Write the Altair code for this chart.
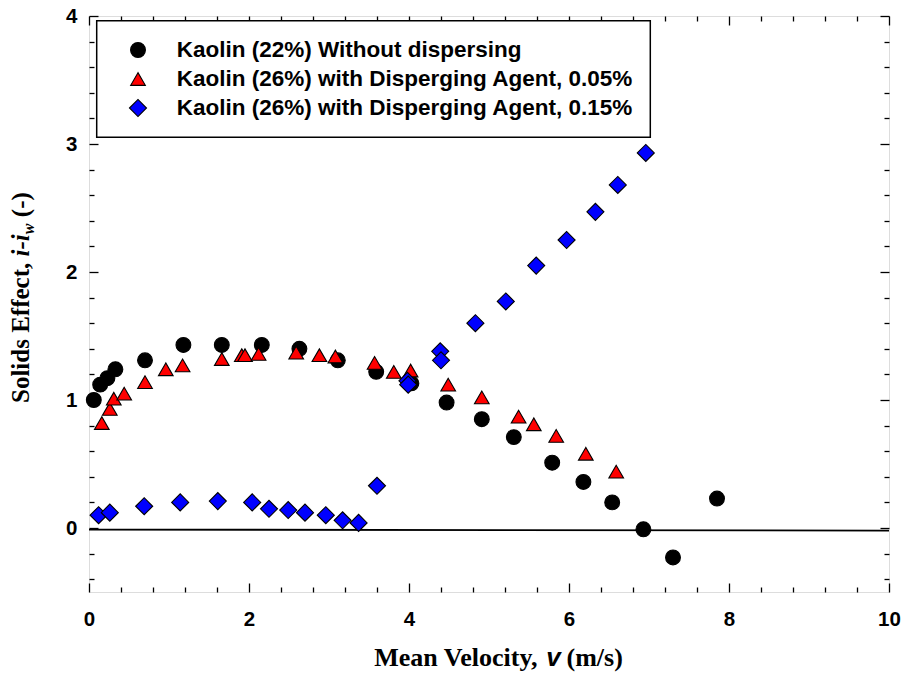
import altair as alt
import pandas as pd

series_names = [
    "Kaolin (22%) Without dispersing",
    "Kaolin (26%) with Disperging Agent, 0.05%",
    "Kaolin (26%) with Disperging Agent, 0.15%",
]
series_fill = ["black", "red", "blue"]
series_shape = ["circle", "triangle-up", "diamond"]
series_size = [220, 215, 290]

k22_x = [0.06, 0.14, 0.23, 0.33, 0.70, 1.18, 1.66, 2.16, 2.63, 3.11, 3.59, 4.03, 4.47,
         4.91, 5.31, 5.79, 6.18, 6.54, 6.93, 7.30, 7.85]
k22_y = [1.00, 1.12, 1.17, 1.24, 1.31, 1.43, 1.43, 1.43, 1.40, 1.31, 1.22, 1.13, 0.98,
         0.85, 0.71, 0.51, 0.36, 0.20, -0.01, -0.23, 0.23]

k05_x = [0.16, 0.26, 0.31, 0.44, 0.70, 0.96, 1.17, 1.66, 1.91, 1.95, 2.12, 2.59, 2.88,
         3.08, 3.57, 3.81, 4.02, 4.49, 4.91, 5.37, 5.56, 5.84, 6.21, 6.59]
k05_y = [0.82, 0.93, 1.01, 1.05, 1.14, 1.24, 1.27, 1.32, 1.35, 1.35, 1.36, 1.37, 1.35,
         1.34, 1.29, 1.22, 1.23, 1.12, 1.02, 0.87, 0.81, 0.72, 0.58, 0.44]

k15_x = [0.12, 0.26, 0.69, 1.14, 1.61, 2.04, 2.25, 2.49, 2.70, 2.96, 3.17, 3.37, 3.60,
         3.98, 3.99, 4.39, 4.40, 4.83, 5.21, 5.59, 5.97, 6.33, 6.61, 6.96]
k15_y = [0.10, 0.12, 0.17, 0.20, 0.21, 0.20, 0.15, 0.14, 0.12, 0.10, 0.06, 0.04, 0.33,
         1.15, 1.12, 1.38, 1.31, 1.60, 1.77, 2.05, 2.25, 2.47, 2.68, 2.93]

zero_x = [0, 10]
zero_y = [-0.012, -0.02]

x_major = [0, 2, 4, 6, 8, 10]
y_major = [0, 1, 2, 3, 4]
x_minor = [round(0.4 * k, 2) for k in range(1, 25) if k % 5 != 0]
y_minor = [round(-0.4 + 0.2 * k, 2) for k in range(0, 22) if k % 5 != 2]

x_title_parts = ["Mean Velocity,", "v", "(m/s)"]
y_title_parts = ["Solids Effect,", "i-i", "w", "(-)"]

zero_df = pd.DataFrame({"x": zero_x, "y": zero_y})

xscale = alt.Scale(domain=[0, 10], nice=False, zero=False)
yscale = alt.Scale(domain=[-0.5, 4], nice=False, zero=False)

LABEL_FONT = "Liberation Sans"
SERIF = "Liberation Serif"

label_x_axis = alt.Axis(
    orient="bottom", values=x_major, ticks=False, domain=False, grid=False, title=None,
    labelFont=LABEL_FONT, labelFontWeight="bold", labelFontSize=20.5, labelColor="black",
    labelPadding=17, labelFlush=False, labelOverlap=False)
label_y_axis = alt.Axis(
    orient="left", values=y_major, ticks=False, domain=False, grid=False, title=None,
    labelFont=LABEL_FONT, labelFontWeight="bold", labelFontSize=20.5, labelColor="black",
    labelPadding=12, labelFlush=False, labelOverlap=False)

series_layers = []
for i, (xs, ys) in enumerate(zip([k22_x, k05_x, k15_x], [k22_y, k05_y, k15_y])):
    d = pd.DataFrame({"x": xs, "y": ys})
    series_layers.append(
        alt.Chart(d).mark_point(
            filled=True, opacity=1, fill=series_fill[i], shape=series_shape[i],
            size=series_size[i], stroke="black", strokeWidth=1.1,
        ).encode(
            x=alt.X("x:Q", scale=xscale, axis=label_x_axis if i == 0 else None),
            y=alt.Y("y:Q", scale=yscale, axis=label_y_axis if i == 0 else None),
        )
    )

zero_line = alt.Chart(zero_df).mark_line(color="black", strokeWidth=1.8).encode(
    x=alt.X("x:Q", scale=xscale, axis=None),
    y=alt.Y("y:Q", scale=yscale, axis=None),
)


def tick_layer(xorient, yorient, xvals, yvals, size):
    return alt.Chart(zero_df).mark_point(opacity=0).encode(
        x=alt.X("x:Q", scale=xscale, axis=alt.Axis(
            orient=xorient, values=xvals, offset=-size, tickSize=size, ticks=True,
            labels=False, domain=False, grid=False, title=None, tickColor="black", tickWidth=1.3)),
        y=alt.Y("y:Q", scale=yscale, axis=alt.Axis(
            orient=yorient, values=yvals, offset=-size, tickSize=size, ticks=True,
            labels=False, domain=False, grid=False, title=None, tickColor="black", tickWidth=1.3)),
    )


t1 = tick_layer("bottom", "left", x_major, y_major, 9)
t2 = tick_layer("bottom", "left", x_minor, y_minor, 5)
t3 = tick_layer("top", "right", x_major, y_major, 9)
t4 = tick_layer("top", "right", x_minor, y_minor, 5)


def text_piece(txt, x, y, font, size, align, style="normal", angle=0, baseline="alphabetic"):
    return alt.Chart(pd.DataFrame({"t": [txt]})).mark_text(
        font=font, fontSize=size, fontWeight="bold", fontStyle=style, align=align,
        baseline=baseline, angle=angle, color="black",
    ).encode(x=alt.value(x), y=alt.value(y), text="t:N")


# legend (box, symbols, labels)
legend_box = alt.Chart(pd.DataFrame({"t": ["legend"]})).mark_rect(
    fill="white", stroke="black", strokeWidth=1.5
).encode(x=alt.value(7.7), x2=alt.value(561.3), y=alt.value(4.7), y2=alt.value(121.3))

legend_layers = [legend_box]
for i, name in enumerate(series_names):
    ry = 34 + 29 * i
    legend_layers.append(
        alt.Chart(pd.DataFrame({"t": [name]})).mark_point(
            filled=True, opacity=1, fill=series_fill[i], shape=series_shape[i],
            size=series_size[i], stroke="black", strokeWidth=1.1,
        ).encode(x=alt.value(49), y=alt.value(ry))
    )
    legend_layers.append(text_piece(name, 87.7, ry, LABEL_FONT, 22.5, "left", baseline="middle"))

xt1 = text_piece(x_title_parts[0], 448.5, 650, SERIF, 26, "right")
xt2 = text_piece(x_title_parts[1], 464.5, 650, LABEL_FONT, 26, "center", "italic")
xt3 = text_piece(x_title_parts[2], 477.5, 650, SERIF, 26, "left")

yt1 = text_piece(y_title_parts[0], -60.5, 387, SERIF, 25, "left", angle=270)
yt2 = text_piece(y_title_parts[1], -60.5, 240.4, SERIF, 25, "left", "italic", angle=270)
yt3 = text_piece(y_title_parts[2], -55.5, 218.2, SERIF, 16, "left", "italic", angle=270)
yt4 = text_piece(y_title_parts[3], -60.5, 201.2, SERIF, 25, "left", angle=270)

chart = alt.layer(
    t1, t2, t3, t4, zero_line, *series_layers, *legend_layers,
    xt1, xt2, xt3, yt1, yt2, yt3, yt4
).resolve_axis(x="independent", y="independent").properties(
    width=800, height=576,
    autosize=alt.AutoSizeParams(type="none"),
    padding={"left": 89, "top": 16, "right": 15, "bottom": 89},
).configure_view(stroke="black", strokeWidth=1.6).configure(background="white")

chart.save("out.html", embed_options={"renderer": "svg", "actions": False})
